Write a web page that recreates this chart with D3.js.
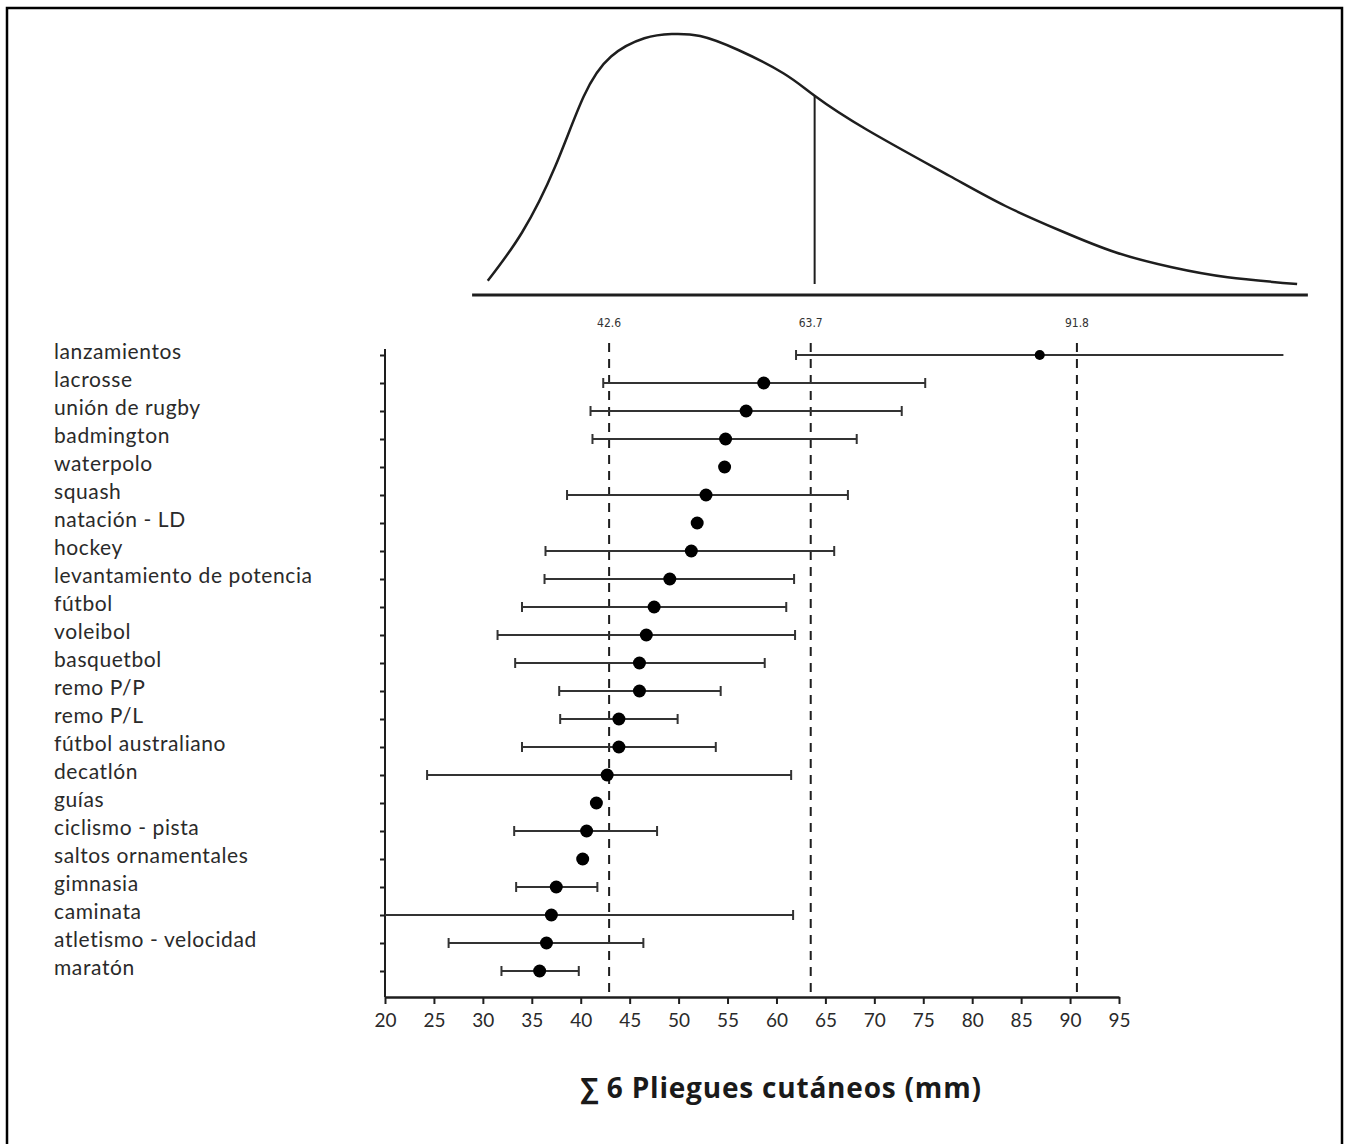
<!DOCTYPE html>
<html>
<head>
<meta charset="utf-8">
<script src="https://cdn.jsdelivr.net/npm/d3@7"></script>
<style>
	body { margin: 0; background: #fff; }
	svg { display: block; }
</style>
</head>
<body>
<div id="chart"></div>
<script>
// sports, top to bottom
const sports = [
	'lanzamientos', 'lacrosse', 'unión de rugby', 'badmington', 'waterpolo', 'squash',
	'natación - LD', 'hockey', 'levantamiento de potencia', 'fútbol', 'voleibol',
	'basquetbol', 'remo P/P', 'remo P/L', 'fútbol australiano', 'decatlón', 'guías',
	'ciclismo - pista', 'saltos ornamentales', 'gimnasia', 'caminata',
	'atletismo - velocidad', 'maratón'
];

// mean sum of 6 skinfolds (mm)
const means = [
	86.9, 58.7, 56.9, 54.8, 54.7, 52.8, 51.9, 51.3, 49.1, 47.5, 46.7,
	46.0, 46.0, 43.9, 43.9, 42.7, 41.6, 40.6, 40.2, 37.5, 37.0, 36.5, 35.8
];

// range of each bar (null = no bar drawn)
const lows = [
	62.0, 42.3, 41.0, 41.2, null, 38.6, null, 36.4, 36.3, 34.0, 31.5,
	33.3, 37.8, 37.9, 34.0, 24.3, null, 33.2, null, 33.4, 20.0, 26.5, 31.9
];
const highs = [
	111.8, 75.2, 72.8, 68.2, null, 67.3, null, 65.9, 61.8, 61.0, 61.9,
	58.8, 54.3, 49.9, 53.8, 61.5, null, 47.8, null, 41.7, 61.7, 46.4, 39.8
];

// reference percentiles
const refLabels = ['42.6', '63.7', '91.8'];
const refAt = [42.9, 63.5, 90.7];

// distribution curve
const curveX = [30.5, 34.0, 37.4, 40.3, 43.1, 46.5, 49.3, 52.2, 56.1, 60.7, 63.9,
	69.2, 77.7, 83.4, 89.1, 94.7, 100.4, 106.1, 113.2];
const curveY = [0.013, 0.206, 0.471, 0.750, 0.910, 0.983, 1.0, 0.992, 0.936, 0.843, 0.753,
	0.618, 0.432, 0.312, 0.212, 0.126, 0.067, 0.027, 0.0];
const markerX = 63.9;
const markerY = 0.755;

const xTicks = d3.range(20, 96, 5);

const width = 1351;
const height = 1144;
const ink = '#1e1e1e';
const font = 'Lato, "Open Sans", sans-serif';

const svg = d3.select('#chart').append('svg')
	.attr('width', width)
	.attr('height', height);

// frame
svg.append('rect')
	.attr('x', 7).attr('y', 8)
	.attr('width', 1335).attr('height', 1150)
	.style('fill', 'none')
	.style('stroke', '#000')
	.style('stroke-width', 2.5);

const x = d3.scaleLinear().domain([20, 95]).range([385, 1119]);
const y = d3.scalePoint().domain(sports).range([355, 971]);
const yTop = d3.scaleLinear().domain([0, 1]).range([284, 34]);

const axisY = 997;

// ---- top distribution ----
const distG = svg.append('g');

distG.append('line')
	.attr('x1', x(28.9)).attr('x2', x(114.3))
	.attr('y1', 295).attr('y2', 295)
	.style('stroke', ink)
	.style('stroke-width', 3);

const curveLine = d3.line()
	.x(d => x(d[0]))
	.y(d => yTop(d[1]))
	.curve(d3.curveNatural);

distG.append('path')
	.attr('d', curveLine(d3.zip(curveX, curveY)))
	.style('fill', 'none')
	.style('stroke', ink)
	.style('stroke-width', 2.5);

distG.append('line')
	.attr('x1', x(markerX)).attr('x2', x(markerX))
	.attr('y1', yTop(0)).attr('y2', yTop(markerY))
	.style('stroke', ink)
	.style('stroke-width', 2);

// ---- reference dashed lines ----
svg.selectAll('.ref')
	.data(refAt)
	.enter()
	.append('line')
	.attr('class', 'ref')
	.attr('x1', d => x(d)).attr('x2', d => x(d))
	.attr('y1', 343).attr('y2', axisY)
	.style('stroke', ink)
	.style('stroke-width', 2)
	.style('stroke-dasharray', '9,7');

svg.selectAll('.refLabel')
	.data(refAt)
	.enter()
	.append('text')
	.attr('class', 'refLabel')
	.attr('x', d => x(d))
	.attr('y', 327)
	.attr('text-anchor', 'middle')
	.style('font-family', '"Liberation Sans Narrow", "DejaVu Sans Condensed", sans-serif')
	.style('font-size', '12px')
	.style('fill', '#333')
	.text((d, i) => refLabels[i]);

// ---- axes ----
const xAxis = svg.append('g')
	.attr('transform', `translate(0,${axisY})`)
	.call(d3.axisBottom(x).tickValues(xTicks).tickSize(7).tickSizeOuter(0).tickPadding(10));

xAxis.select('.domain').style('stroke', ink).style('stroke-width', 2.5);
xAxis.selectAll('.tick line').style('stroke', ink).style('stroke-width', 2);
xAxis.selectAll('.tick text')
	.style('font-family', font)
	.style('font-size', '19px')
	.style('fill', '#2a2a2a');

const yAxis = svg.append('g')
	.attr('transform', `translate(${x(20)},0)`)
	.call(d3.axisLeft(y).tickSize(5).tickFormat(''));

yAxis.select('.domain').remove();
yAxis.selectAll('.tick line').style('stroke', ink).style('stroke-width', 2);

svg.append('line')
	.attr('x1', x(20)).attr('x2', x(20))
	.attr('y1', 349).attr('y2', axisY)
	.style('stroke', ink)
	.style('stroke-width', 2);

// ---- row labels ----
svg.selectAll('.rowLabel')
	.data(sports)
	.enter()
	.append('text')
	.attr('class', 'rowLabel')
	.attr('x', 54)
	.attr('y', d => y(d) - 3)
	.attr('dy', '0.35em')
	.style('font-family', font)
	.style('font-size', '21px')
	.style('letter-spacing', '0.6px')
	.style('fill', '#2a2a2a')
	.text(d => d);

// ---- range bars ----
const rows = sports.map((s, i) => ({name: s, mean: means[i], low: lows[i], high: highs[i]}));
const withBars = rows.filter(d => d.low !== null);

const bars = svg.append('g');

bars.selectAll('.bar')
	.data(withBars)
	.enter()
	.append('line')
	.attr('class', 'bar')
	.attr('x1', d => x(d.low)).attr('x2', d => x(d.high))
	.attr('y1', d => y(d.name)).attr('y2', d => y(d.name))
	.style('stroke', '#333')
	.style('stroke-width', 2);

// caps, skipped where the bar runs past the frame of the plot
const caps = [];
withBars.forEach(d => {
	if (d.low > 20) caps.push({name: d.name, v: d.low});
	if (d.high < 100) caps.push({name: d.name, v: d.high});
});

bars.selectAll('.cap')
	.data(caps)
	.enter()
	.append('line')
	.attr('class', 'cap')
	.attr('x1', d => x(d.v)).attr('x2', d => x(d.v))
	.attr('y1', d => y(d.name) - 5).attr('y2', d => y(d.name) + 5)
	.style('stroke', '#333')
	.style('stroke-width', 2);

bars.selectAll('.dot')
	.data(rows)
	.enter()
	.append('circle')
	.attr('class', 'dot')
	.attr('cx', d => x(d.mean))
	.attr('cy', d => y(d.name))
	.attr('r', d => d.name === 'lanzamientos' ? 5 : 6.5)
	.style('fill', '#000');

// ---- title ----
svg.append('text')
	.attr('x', 781)
	.attr('y', 1098)
	.attr('text-anchor', 'middle')
	.style('font-family', '"Open Sans", Lato, sans-serif')
	.style('font-size', '28px')
	.style('font-weight', 'bold')
	.style('letter-spacing', '0.8px')
	.style('fill', '#1a1a1a')
	.text('∑ 6 Pliegues cutáneos (mm)');
</script>
</body>
</html>
